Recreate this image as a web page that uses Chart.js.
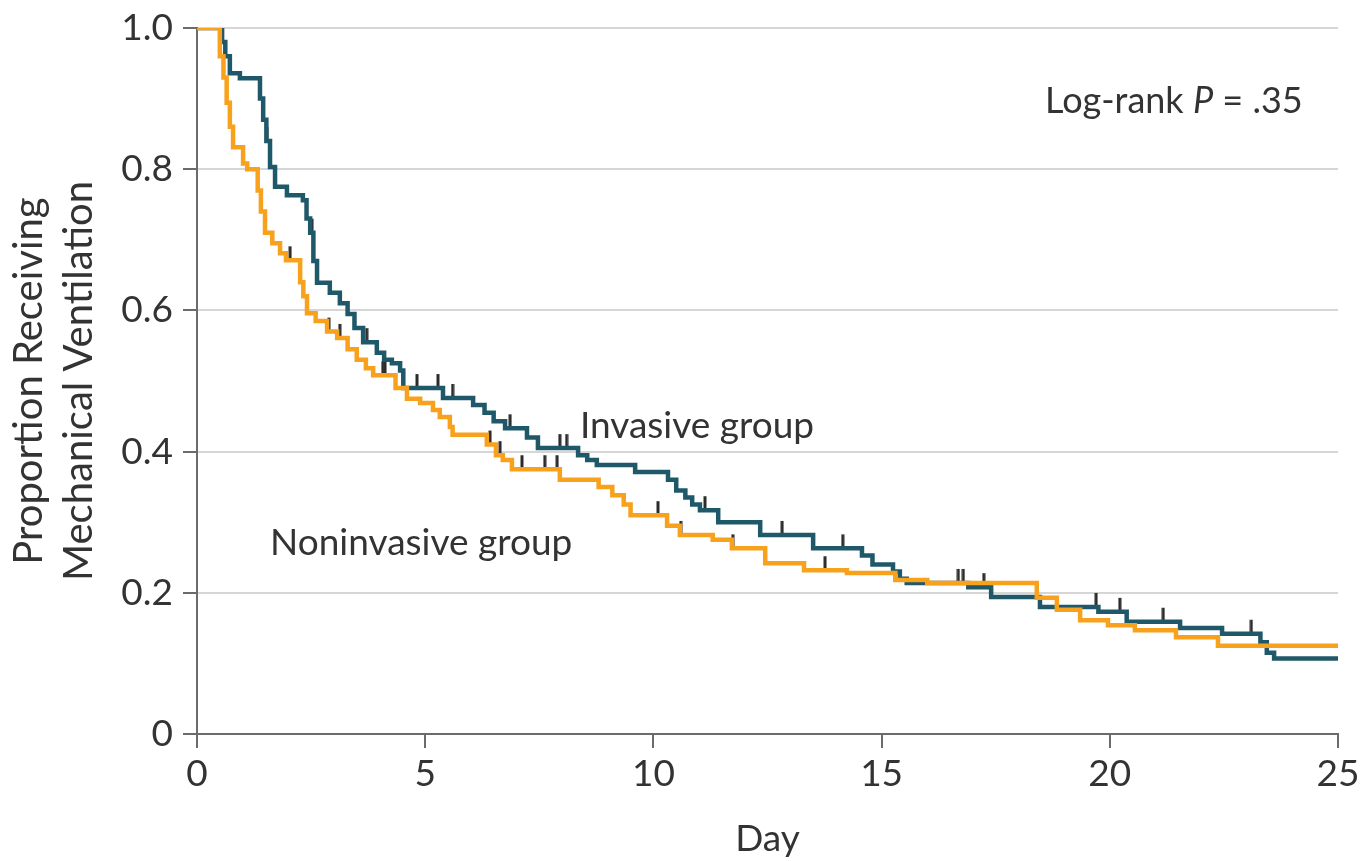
<!DOCTYPE html>
<html>
<head>
<meta charset="utf-8">
<script src="https://cdn.jsdelivr.net/npm/chart.js@4/dist/chart.umd.min.js"></script>
<style>
  html, body { margin: 0; padding: 0; background: #fff; }
  #wrap { width: 1365px; height: 861px; }
</style>
</head>
<body>
<div id="wrap"><canvas id="kmChart" width="1365" height="861"></canvas></div>
<script>
// Kaplan-Meier steps (day, proportion after the drop)
const invasiveDays = [0, 0.55, 0.62, 0.72, 0.94, 1.38, 1.45, 1.52, 1.6, 1.71, 1.97, 2.32, 2.4, 2.48, 2.55, 2.63, 2.91, 3.13, 3.3, 3.45, 3.64, 3.94, 4.1, 4.27, 4.45, 4.52, 5.39, 6.05, 6.3, 6.5, 6.75, 7.23, 7.47, 8.35, 8.55, 8.76, 9.6, 10.32, 10.5, 10.7, 10.85, 11.02, 11.42, 12.34, 13.5, 14.57, 14.8, 15.25, 15.4, 15.55, 16.9, 17.4, 18.47, 19.75, 20.37, 21.54, 22.46, 23.3, 23.44, 23.6, 25];
const invasiveProp = [1.0, 0.98, 0.96, 0.936, 0.929, 0.90, 0.87, 0.84, 0.803, 0.775, 0.763, 0.756, 0.73, 0.71, 0.67, 0.639, 0.625, 0.61, 0.595, 0.575, 0.555, 0.54, 0.53, 0.525, 0.515, 0.49, 0.476, 0.466, 0.455, 0.443, 0.433, 0.42, 0.405, 0.395, 0.388, 0.381, 0.371, 0.36, 0.345, 0.335, 0.325, 0.317, 0.30, 0.282, 0.263, 0.253, 0.24, 0.23, 0.22, 0.214, 0.208, 0.194, 0.18, 0.173, 0.159, 0.15, 0.142, 0.13, 0.115, 0.107, 0.107];

const noninvasiveDays = [0, 0.5, 0.58, 0.65, 0.72, 0.79, 1.01, 1.1, 1.33, 1.4, 1.49, 1.65, 1.82, 1.95, 2.26, 2.33, 2.41, 2.6, 2.85, 3.07, 3.3, 3.5, 3.7, 3.86, 4.35, 4.6, 4.89, 5.17, 5.32, 5.54, 5.6, 6.35, 6.55, 6.7, 6.9, 7.95, 8.8, 9.1, 9.35, 9.5, 10.3, 10.58, 11.3, 11.72, 12.45, 13.3, 14.24, 15.3, 16.0, 18.4, 18.84, 19.35, 19.96, 20.55, 21.45, 22.37, 25];
const noninvasiveProp = [1.0, 0.96, 0.93, 0.894, 0.86, 0.831, 0.808, 0.80, 0.77, 0.74, 0.71, 0.695, 0.681, 0.671, 0.64, 0.62, 0.596, 0.585, 0.57, 0.561, 0.545, 0.53, 0.518, 0.508, 0.49, 0.475, 0.469, 0.459, 0.449, 0.435, 0.424, 0.41, 0.395, 0.388, 0.375, 0.36, 0.35, 0.338, 0.325, 0.31, 0.295, 0.282, 0.275, 0.263, 0.242, 0.232, 0.228, 0.218, 0.214, 0.193, 0.176, 0.161, 0.154, 0.147, 0.137, 0.125, 0.125];

// censored observations (days)
const invasiveCensored = [1.53, 2.52, 3.72, 4.82, 5.28, 5.6, 6.86, 7.95, 8.1, 11.13, 12.82, 14.15, 16.68, 16.79, 17.24, 19.7, 20.22, 21.17, 23.1];
const noninvasiveCensored = [2.04, 2.89, 3.13, 4.07, 4.12, 6.42, 6.64, 7.12, 7.62, 7.89, 10.1, 10.6, 11.74, 13.76];

const xTicks = [0, 5, 10, 15, 20, 25];
const yTicks = [0, 0.2, 0.4, 0.6, 0.8, 1.0];

const INVASIVE = '#1f5868';
const NONINVASIVE = '#f7a11c';
const INK = '#333333';
const FONT = 'Lato';

function pairs(xs, ys) {
    return xs.map((x, i) => ({ x: x, y: ys[i] }));
}

// value of the step curve at day t
function stepAt(days, props, t) {
    let v = props[0];
    for (let i = 0; i < days.length; i++) {
        if (days[i] <= t) v = props[i];
    }
    return v;
}

function censorPoints(times, days, props) {
    return times.map(t => ({ x: t, y: stepAt(days, props, t) }));
}

// censor mark: short vertical stroke sitting on top of the curve
const censorMark = document.createElement('canvas');
censorMark.width = 4;
censorMark.height = 30;
(() => {
    const c = censorMark.getContext('2d');
    c.strokeStyle = '#2b2b2b';
    c.lineWidth = 3;
    c.beginPath();
    c.moveTo(2, 1);
    c.lineTo(2, 15);
    c.stroke();
})();

// texts placed in data coordinates
const notes = {
    id: 'notes',
    afterDatasetsDraw(chart) {
        const { ctx, scales: { x, y } } = chart;
        ctx.save();
        ctx.fillStyle = INK;
        ctx.textBaseline = 'alphabetic';
        ctx.textAlign = 'left';
        ctx.font = `37px ${FONT}`;
        ctx.fillText('Invasive group', x.getPixelForValue(8.39), y.getPixelForValue(0.419));
        ctx.fillText('Noninvasive group', x.getPixelForValue(1.6), y.getPixelForValue(0.254));

        let px = x.getPixelForValue(18.58);
        const py = y.getPixelForValue(0.88);
        const parts = [['Log-rank ', ''], ['P', 'italic '], [' = .35', '']];
        parts.forEach(([txt, style]) => {
            ctx.font = `${style}36px ${FONT}`;
            ctx.fillText(txt, px, py);
            px += ctx.measureText(txt).width;
        });
        ctx.restore();
    }
};

const ctx = document.getElementById('kmChart').getContext('2d');
const chart = new Chart(ctx, {
    type: 'line',
    data: {
        datasets: [
            {
                label: 'Noninvasive group',
                data: pairs(noninvasiveDays, noninvasiveProp),
                borderColor: NONINVASIVE,
                borderWidth: 4.5,
                stepped: 'before',
                pointRadius: 0,
                fill: false
            },
            {
                label: 'Invasive group',
                data: pairs(invasiveDays, invasiveProp),
                borderColor: INVASIVE,
                borderWidth: 4.5,
                stepped: 'before',
                pointRadius: 0,
                fill: false
            },
            {
                type: 'scatter',
                label: 'Invasive censored',
                data: censorPoints(invasiveCensored, invasiveDays, invasiveProp),
                pointStyle: censorMark,
                showLine: false
            },
            {
                type: 'scatter',
                label: 'Noninvasive censored',
                data: censorPoints(noninvasiveCensored, noninvasiveDays, noninvasiveProp),
                pointStyle: censorMark,
                showLine: false
            }
        ]
    },
    options: {
        responsive: false,
        animation: false,
        layout: { padding: { top: 28, right: 27, left: 0, bottom: 0 } },
        plugins: { legend: { display: false }, tooltip: { enabled: false } },
        scales: {
            x: {
                type: 'linear',
                min: 0,
                max: 25,
                afterBuildTicks: s => { s.ticks = xTicks.map(v => ({ value: v })); },
                afterFit: s => { s.height = 127; s.paddingLeft = 0; s.paddingRight = 0; },
                grid: { drawOnChartArea: false, tickLength: 14, tickColor: '#6b6b6b', lineWidth: 2 },
                border: { color: '#6b6b6b', width: 2 },
                ticks: { color: INK, font: { family: FONT, size: 37 }, padding: 4, maxRotation: 0 },
                title: { display: true, text: 'Day', color: INK, font: { family: FONT, size: 37 }, padding: { top: 10, bottom: 0 } }
            },
            y: {
                min: 0,
                max: 1,
                afterBuildTicks: s => { s.ticks = yTicks.map(v => ({ value: v })); },
                afterFit: s => { s.width = 197; s.paddingTop = 0; s.paddingBottom = 0; },
                grid: { color: '#d6d6d6', lineWidth: 2, tickLength: 14, tickColor: '#6b6b6b' },
                border: { color: '#6b6b6b', width: 2 },
                ticks: {
                    color: INK,
                    font: { family: FONT, size: 37 },
                    padding: 10,
                    callback: v => (v === 0 ? '0' : v.toFixed(1))
                },
                title: {
                    display: true,
                    text: ['Proportion Receiving', 'Mechanical Ventilation'],
                    color: INK,
                    font: { family: FONT, size: 40, lineHeight: 1.25 },
                    padding: { top: 4, bottom: 0 }
                }
            }
        }
    },
    plugins: [notes]
});
</script>
</body>
</html>
